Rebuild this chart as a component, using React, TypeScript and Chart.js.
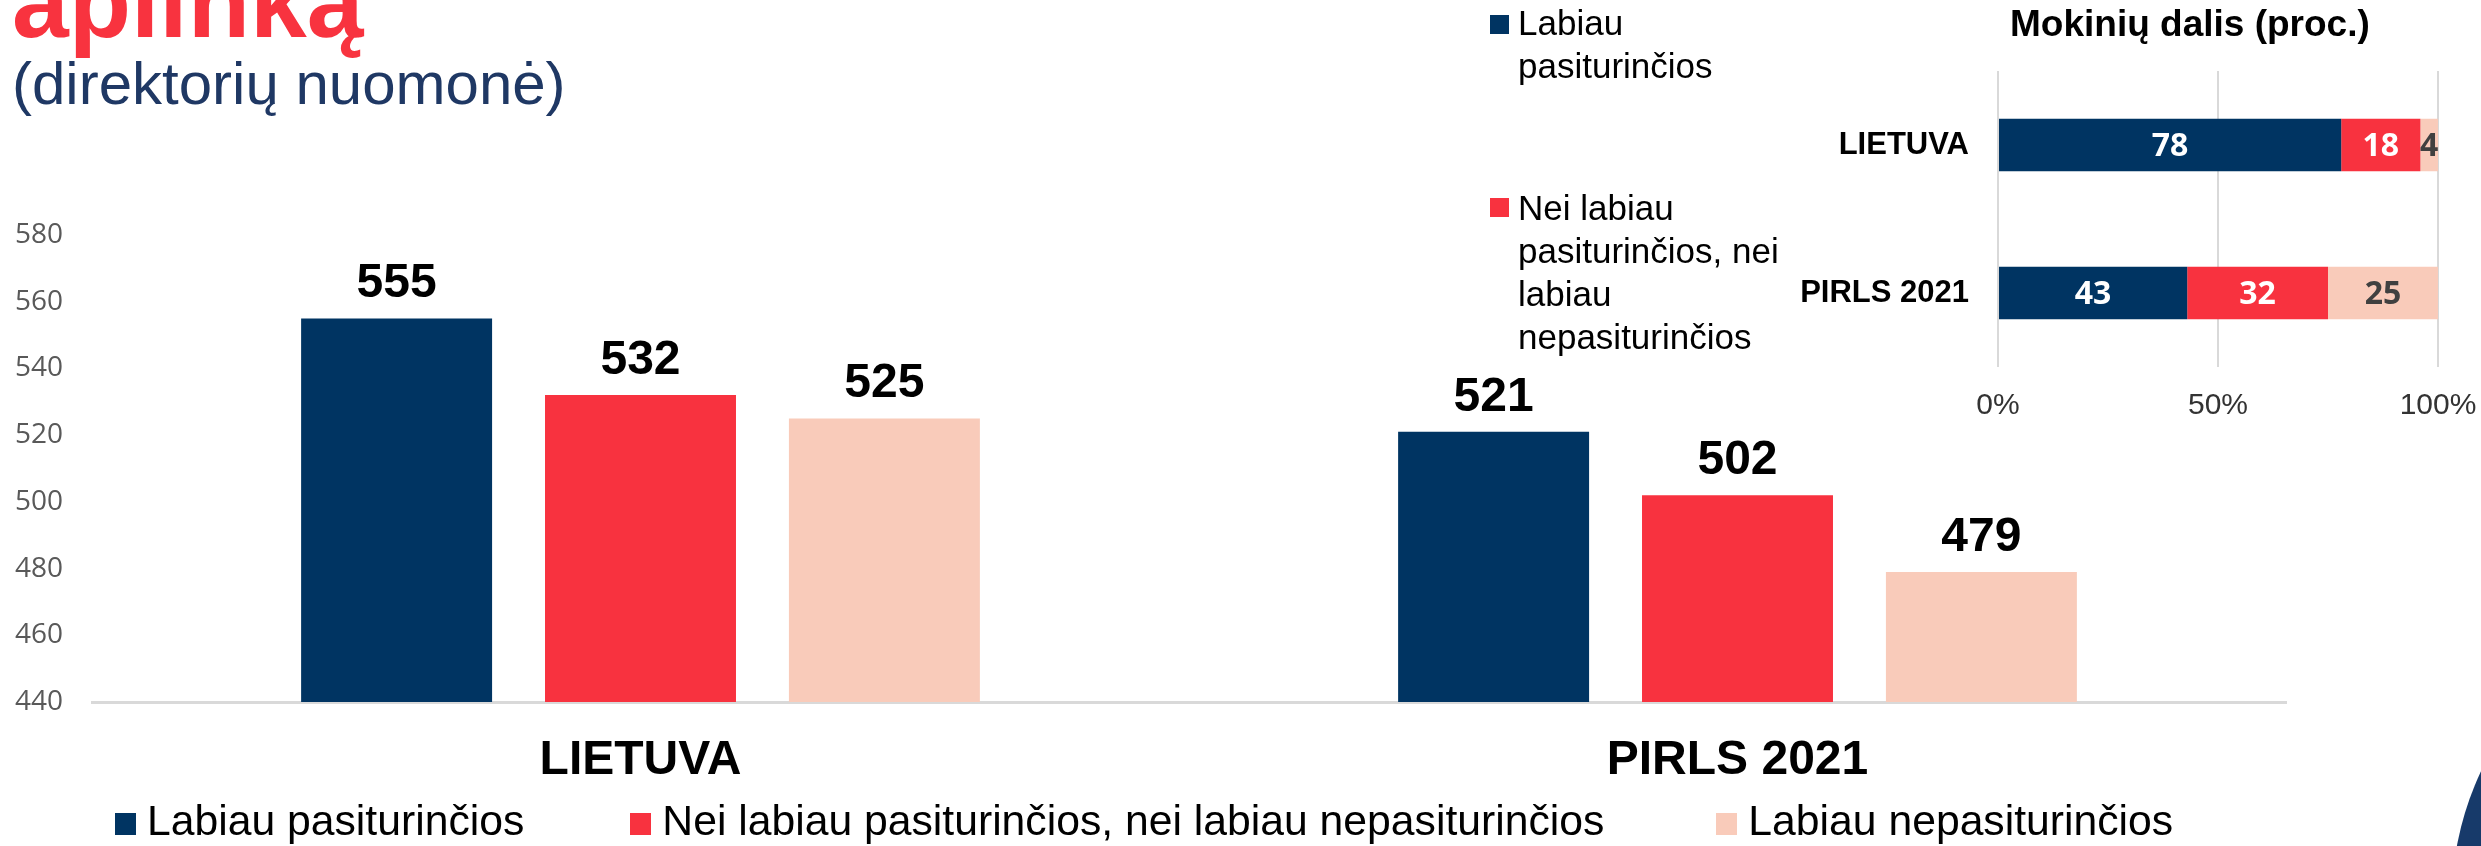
import React, { useEffect, useRef } from "react";
import { Chart, registerables } from "chart.js";
Chart.register(...registerables);

// ---- data ----
const categories = ["LIETUVA", "PIRLS 2021"];
const seriesNames = [
  "Labiau pasiturinčios",
  "Nei labiau pasiturinčios, nei labiau nepasiturinčios",
  "Labiau nepasiturinčios",
];
const scoreLabiau = [555, 521];
const scoreNei = [532, 502];
const scoreNepas = [525, 479];
const shareLabiau = [78, 43];
const shareNei = [18, 32];
const shareNepas = [4, 25];
const scoreMin = 440;
const scoreMax = 580;
const scoreStep = 20;
const shareMin = 0;
const shareMax = 100;
const shareStep = 50;
const colors = ["#003462", "#F8323F", "#F9CBBA"];

const ARIAL = '"Liberation Sans", Arial, sans-serif';

const mainLabelPlugin = {
  id: "mainLabels",
  afterDatasetsDraw(chart: any) {
    const ctx = chart.ctx;
    ctx.save();
    ctx.font = `bold 48px ${ARIAL}`;
    ctx.fillStyle = "#000";
    ctx.textAlign = "center";
    ctx.textBaseline = "alphabetic";
    chart.data.datasets.forEach((ds: any, i: number) => {
      chart.getDatasetMeta(i).data.forEach((bar: any, j: number) => {
        ctx.fillText(String(ds.data[j]), bar.x, bar.y - 21);
      });
    });
    ctx.restore();
  },
};

const insetLabelPlugin = {
  id: "insetLabels",
  afterDatasetsDraw(chart: any) {
    const ctx = chart.ctx;
    ctx.save();
    ctx.font = `bold 32px "Open Sans", sans-serif`;
    ctx.textAlign = "center";
    ctx.textBaseline = "middle";
    chart.data.datasets.forEach((ds: any, i: number) => {
      ctx.fillStyle = i === 2 ? "#404040" : "#ffffff";
      chart.getDatasetMeta(i).data.forEach((bar: any, j: number) => {
        const cx = (bar.x + bar.base) / 2;
        ctx.fillText(String(ds.data[j]), cx, bar.y + 2);
      });
    });
    ctx.restore();
  },
};

function MainChart() {
  const ref = useRef<HTMLCanvasElement | null>(null);
  useEffect(() => {
    if (!ref.current) return;
    const series = [scoreLabiau, scoreNei, scoreNepas];
    const chart = new Chart(ref.current, {
      type: "bar",
      data: {
        labels: categories,
        datasets: series.map((d, i) => ({
          label: seriesNames[i],
          data: d,
          backgroundColor: colors[i],
          borderWidth: 0,
          categoryPercentage: 0.667,
          barPercentage: 0.783,
        })),
      },
      options: {
        animation: false,
        responsive: false,
        maintainAspectRatio: false,
        layout: { padding: { top: 235, right: 14, left: 0, bottom: 0 } },
        plugins: { legend: { display: false }, tooltip: { enabled: false } },
        scales: {
          x: {
            grid: { display: false, drawTicks: false },
            border: { display: true, color: "#d9d9d9", width: 3 },
            ticks: {
              font: { family: ARIAL, weight: "bold", size: 48 },
              color: "#000",
              padding: 30,
            },
            afterFit: (s: any) => {
              s.height = 144;
              s.paddingLeft = 0;
              s.paddingRight = 0;
            },
          },
          y: {
            min: scoreMin,
            max: scoreMax,
            ticks: {
              stepSize: scoreStep,
              font: { family: '"Open Sans", sans-serif', size: 28 },
              color: "#595959",
              padding: 29,
            },
            grid: { display: false, drawTicks: false },
            border: { display: false },
            afterFit: (s: any) => {
              s.width = 92;
              s.paddingTop = 0;
              s.paddingBottom = 0;
            },
          },
        },
      } as any,
      plugins: [mainLabelPlugin],
    });
    return () => chart.destroy();
  }, []);
  return (
    <canvas
      ref={ref}
      width={2300}
      height={846}
      style={{ position: "absolute", left: 0, top: 0, width: 2300, height: 846 }}
    />
  );
}

function InsetChart() {
  const ref = useRef<HTMLCanvasElement | null>(null);
  useEffect(() => {
    if (!ref.current) return;
    const series = [shareLabiau, shareNei, shareNepas];
    const chart = new Chart(ref.current, {
      type: "bar",
      data: {
        labels: categories,
        datasets: series.map((d, i) => ({
          label: seriesNames[i],
          data: d,
          backgroundColor: colors[i],
          borderWidth: 0,
          categoryPercentage: 1,
          barPercentage: 0.355,
        })),
      },
      options: {
        indexAxis: "y",
        animation: false,
        responsive: false,
        maintainAspectRatio: false,
        layout: { padding: { top: 11, right: 43, left: 0, bottom: 0 } },
        plugins: { legend: { display: false }, tooltip: { enabled: false } },
        scales: {
          x: {
            stacked: true,
            min: shareMin,
            max: shareMax,
            ticks: {
              stepSize: shareStep,
              callback: (v: any) => v + "%",
              font: { family: ARIAL, size: 30 },
              color: "#333333",
              padding: 21,
            },
            grid: { color: "#d9d9d9", lineWidth: 2, drawTicks: false },
            border: { display: false },
            afterFit: (s: any) => {
              s.height = 73;
              s.paddingLeft = 0;
              s.paddingRight = 0;
            },
          },
          y: {
            stacked: true,
            ticks: {
              font: { family: ARIAL, weight: "bold", size: 31 },
              color: "#000",
              padding: 29,
            },
            grid: { display: false, drawTicks: false },
            border: { display: false },
            afterFit: (s: any) => {
              s.width = 298;
              s.paddingTop = 0;
              s.paddingBottom = 0;
            },
          },
        },
      } as any,
      plugins: [insetLabelPlugin],
    });
    return () => chart.destroy();
  }, []);
  return (
    <canvas
      ref={ref}
      width={781}
      height={380}
      style={{ position: "absolute", left: 1700, top: 60, width: 781, height: 380 }}
    />
  );
}

export default function App() {
  const insetLegend = [
    { color: colors[0], lines: ["Labiau", "pasiturinčios"], top: 1, boxTop: 15 },
    {
      color: colors[1],
      lines: ["Nei labiau", "pasiturinčios, nei", "labiau", "nepasiturinčios"],
      top: 186,
      boxTop: 198,
    },
  ];
  const legendGaps = [0, 106, 112];
  return (
    <div
      style={{
        position: "fixed",
        left: 0,
        top: 0,
        width: 2481,
        height: 846,
        overflow: "hidden",
        background: "#ffffff",
        fontFamily: ARIAL,
      }}
    >
      {/* slide title */}
      <div
        style={{
          position: "absolute",
          left: 12,
          top: -49,
          fontSize: 102,
          lineHeight: "102px",
          fontWeight: "bold",
          color: "#F8333F",
          whiteSpace: "nowrap",
        }}
      >
        aplinką
      </div>
      <div
        style={{
          position: "absolute",
          left: 12,
          top: 54,
          fontSize: 60,
          lineHeight: "60px",
          color: "#1F3864",
          whiteSpace: "nowrap",
        }}
      >
        (direktorių nuomonė)
      </div>

      <MainChart />

      {/* inset title */}
      <div
        style={{
          position: "absolute",
          left: 2010,
          top: 5,
          fontSize: 37,
          lineHeight: "37px",
          fontWeight: "bold",
          color: "#000",
          whiteSpace: "nowrap",
        }}
      >
        Mokinių dalis (proc.)
      </div>

      {/* inset legend */}
      {insetLegend.map((it, i) => (
        <React.Fragment key={i}>
          <div
            style={{
              position: "absolute",
              left: 1490,
              top: it.boxTop,
              width: 19,
              height: 19,
              background: it.color,
            }}
          />
          <div
            style={{
              position: "absolute",
              left: 1518,
              top: it.top,
              fontSize: 35,
              lineHeight: "43px",
              color: "#000",
              whiteSpace: "nowrap",
            }}
          >
            {it.lines.map((l, k) => (
              <div key={k}>{l}</div>
            ))}
          </div>
        </React.Fragment>
      ))}

      <InsetChart />

      {/* bottom legend */}
      <div
        style={{
          position: "absolute",
          left: 115,
          top: 796,
          display: "flex",
          alignItems: "flex-start",
          whiteSpace: "nowrap",
        }}
      >
        {seriesNames.map((n, i) => (
          <div
            key={i}
            style={{ display: "flex", alignItems: "flex-start", marginLeft: legendGaps[i] }}
          >
            <span
              style={{
                display: "inline-block",
                width: 21,
                height: 22,
                marginTop: 17,
                marginRight: 11,
                background: colors[i],
              }}
            />
            <span style={{ fontSize: 42.7, lineHeight: "48px", color: "#000" }}>{n}</span>
          </div>
        ))}
      </div>

      {/* decorative slide shape */}
      <div
        style={{
          position: "absolute",
          left: 2452,
          top: 600,
          width: 600,
          height: 600,
          borderRadius: "50%",
          background: "#173a6a",
        }}
      />
    </div>
  );
}
